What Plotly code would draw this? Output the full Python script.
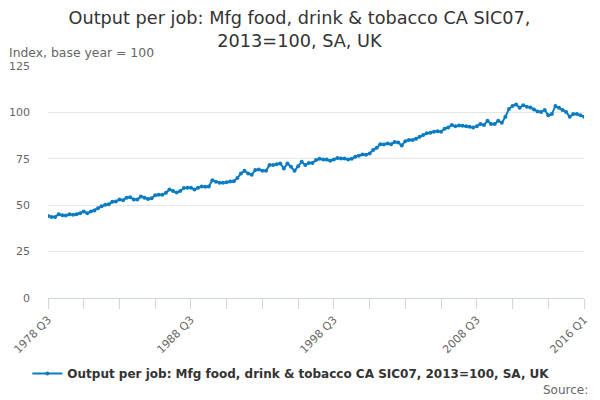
import plotly.graph_objs as go

# quarterly labels 1978 Q3 .. 2016 Q1
quarters = []
for yr in range(1978, 2017):
    for q in range(1, 5):
        if (yr == 1978 and q < 3) or (yr == 2016 and q > 1):
            continue
        quarters.append(f"{yr} Q{q}")

# values (index, 2013=100)
output_per_job = [
    44.2, 43.7, 43.7, 45.1, 44.6, 44.4, 45.1, 44.8, 45.1, 45.7,
    46.6, 45.7, 46.6, 47.1, 48.4, 49.5, 50.2, 50.5, 51.8, 52.0,
    53.1, 52.7, 54.0, 54.3, 53.1, 53.1, 54.7, 54.0, 53.4, 53.8,
    55.4, 55.6, 55.6, 56.7, 58.5, 57.6, 56.8, 57.6, 59.2, 59.4,
    59.4, 58.5, 59.4, 60.1, 59.9, 60.1, 63.5, 62.6, 62.1, 62.1,
    62.4, 62.8, 62.9, 64.6, 67.1, 68.5, 67.1, 66.4, 68.9, 69.2,
    68.5, 68.5, 71.6, 71.6, 72.1, 72.5, 69.8, 72.5, 70.7, 68.5,
    71.0, 73.4, 71.6, 72.8, 72.8, 74.3, 75.0, 74.6, 74.6, 73.9,
    74.6, 75.4, 75.2, 75.2, 74.6, 75.0, 76.1, 76.6, 77.3, 77.2,
    77.9, 79.7, 80.9, 82.9, 82.7, 83.3, 82.9, 84.0, 83.8, 82.2,
    84.5, 85.1, 85.1, 85.8, 86.9, 87.8, 88.7, 89.0, 89.6, 89.9,
    89.6, 91.2, 91.9, 93.2, 92.6, 93.0, 92.8, 92.6, 92.3, 91.9,
    92.6, 93.7, 93.2, 95.5, 93.7, 93.7, 95.5, 94.4, 97.7, 101.8,
    103.4, 104.3, 102.5, 103.9, 103.1, 102.7, 101.6, 100.5, 100.2, 101.3,
    98.4, 99.1, 103.4, 102.5, 101.3, 100.2, 97.7, 99.1, 99.1, 98.4,
    97.7,
]

series_name = "Output per job: Mfg food, drink & tobacco CA SIC07, 2013=100, SA, UK"
labelled = {"1978 Q3", "1988 Q3", "1998 Q3", "2008 Q3", "2016 Q1"}

tick_vals = quarters[::10]
tick_text = [q if q in labelled else "" for q in tick_vals]

fig = go.Figure()
fig.add_trace(
    go.Scatter(x=quarters, y=output_per_job, mode="lines+markers", name=series_name,
               line=dict(color="#0b7cc1", width=2),
               marker=dict(color="#0b7cc1", size=4))
)

# page body has an 8px margin, so the figure is sized to fit the window
fig.update_layout(
    width=592, height=392,
    paper_bgcolor="white", plot_bgcolor="white",
    font=dict(family="DejaVu Sans", color="#666666", size=11),
    title=dict(text="Output per job: Mfg food, drink & tobacco CA SIC07,<br>2013=100, SA, UK",
               x=0.4924, xanchor="center", y=0.959, yanchor="middle",
               font=dict(size=17.7, color="#333333"), automargin=False),
    margin=dict(l=40, r=16, t=58, b=102),
    showlegend=True,
    legend=dict(orientation="h", x=0.454, xanchor="center", y=-0.325, yanchor="middle",
                itemwidth=30,
                font=dict(size=12, color="#333333", weight="bold")),
    xaxis=dict(type="category", range=[0, len(quarters) - 1], automargin=False,
               tickmode="array", tickvals=tick_vals, ticktext=tick_text,
               tickangle=-45, ticks="outside", ticklen=10, tickcolor="#ccd6eb",
               showline=True, linecolor="#ccd6eb", showgrid=False,
               tickfont=dict(size=11, color="#666666")),
    yaxis=dict(range=[0, 125], tickvals=[0, 25, 50, 75, 100, 125], automargin=False,
               gridcolor="#e6e6e6", zeroline=False, showline=False,
               ticklabelstandoff=17,
               tickfont=dict(size=11, color="#666666")),
)

fig.add_annotation(text="Index, base year = 100", xref="paper", yref="paper",
                   x=-0.0765, y=1.060, xanchor="left", yanchor="middle", showarrow=False,
                   font=dict(size=12.4, color="#666666"))
fig.add_annotation(text="Source:", xref="paper", yref="paper",
                   x=1.011, y=-0.398, xanchor="right", yanchor="middle", showarrow=False,
                   font=dict(size=12, color="#666666"))

fig.write_html("out.html")
